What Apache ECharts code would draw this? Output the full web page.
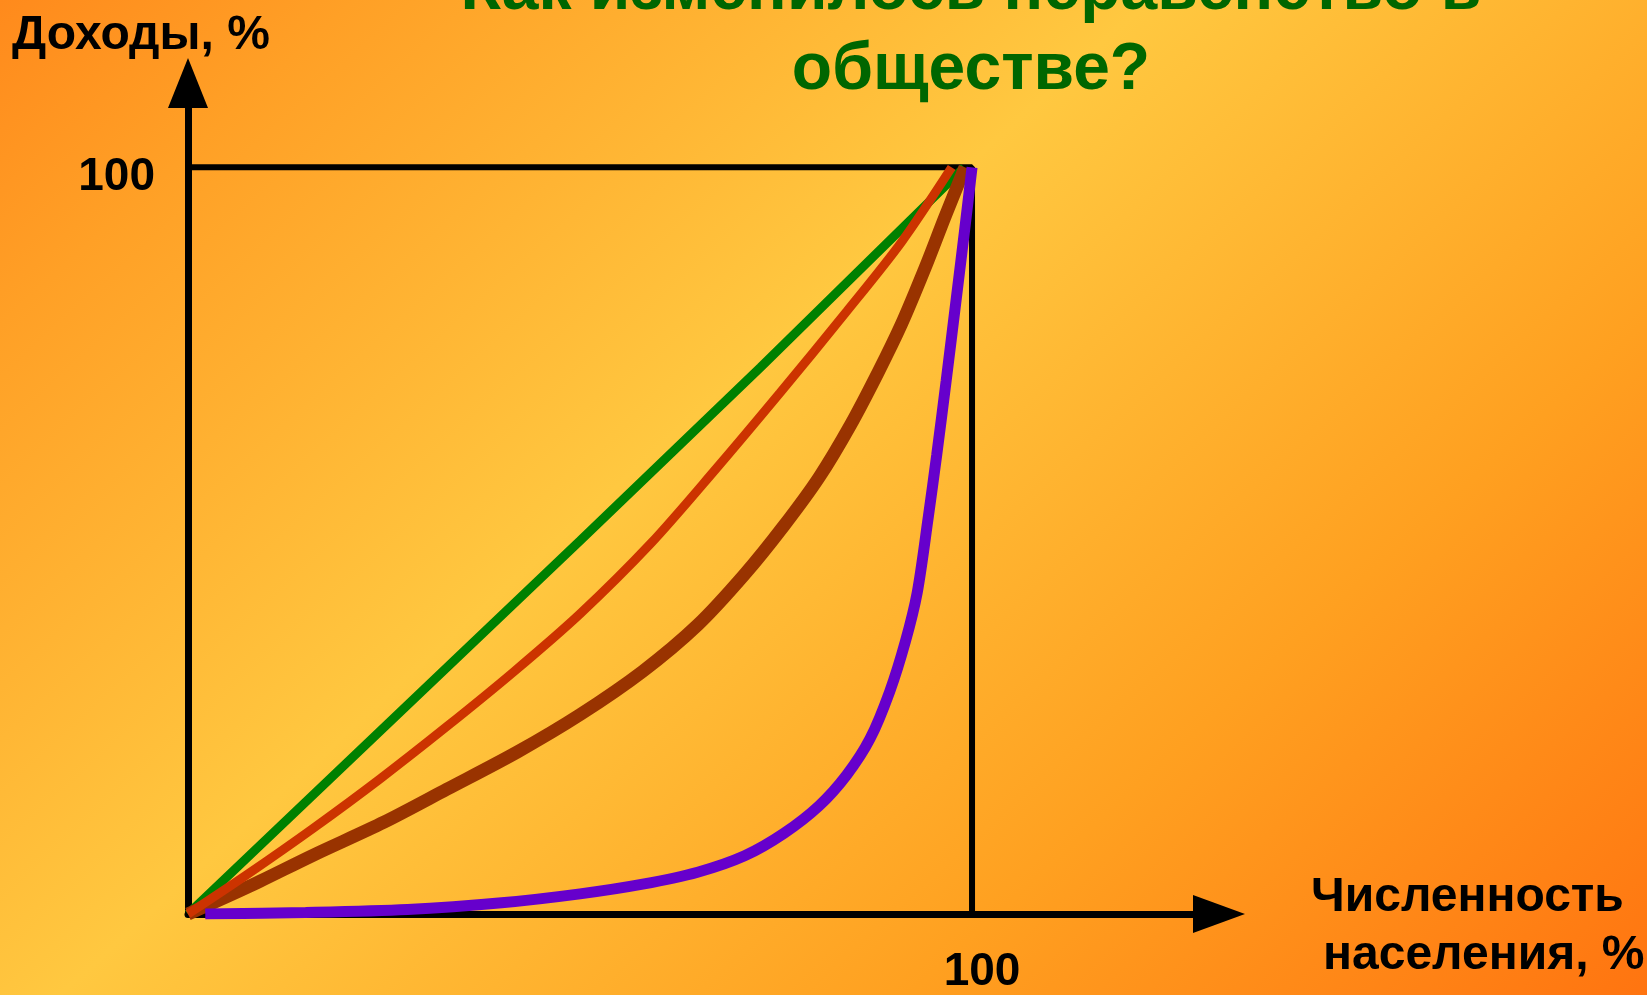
<!DOCTYPE html>
<html><head><meta charset="utf-8">
<script src="https://cdn.jsdelivr.net/npm/echarts@6/dist/echarts.min.js"></script>
<style>
html,body{margin:0;padding:0;width:1647px;height:995px;overflow:hidden;}
#c{width:1647px;height:995px;background:linear-gradient(137.6deg,#FF8A1C 0%,#FFA026 13%,#FFC840 42%,#FFA020 73%,#FF7410 100%);}
</style></head><body><div id="c"></div>
<script>
// ---- data ----
const titleLines = ['Как изменилось неравенство в', 'обществе?'];
const yAxisName = 'Доходы, %';
const xAxisNameLines = ['Численность', 'населения, %'];
const tickValue = 100;            // the only labelled tick on both axes
const frameX = [0, 100, 100];
const frameY = [100, 100, 0];

const greenX = [0, 50, 73, 99];
const greenY = [0, 50, 73.2, 100];

const redX = [0, 7.5, 16, 24.5, 33, 41.5, 50, 59, 67, 75.5, 84, 91, 97.4];
const redY = [0, 5.25, 11.5, 18.1, 25.1, 32.4, 40.2, 49.6, 59.2, 69.8, 80.7, 90, 100];

const brownX = [0, 8, 16, 25, 33, 42, 50, 58, 65, 71, 76, 80.5, 84.5, 88, 91, 94, 96.6, 99.1];
const brownY = [0, 3.8, 7.9, 12.3, 16.7, 21.7, 26.7, 32.5, 38.7, 45.5, 52, 58.5, 65.5, 72.5, 79, 86.5, 93.5, 100];

const purpleX = [2.2, 15, 28, 40, 50, 58, 65, 71, 76, 80.5, 84, 87, 89.5, 91.5, 93, 94.4, 95.5, 96.7, 98, 99.1, 100];
const purpleY = [0, 0.2, 0.6, 1.5, 2.7, 4.0, 5.6, 7.8, 10.8, 14.5, 18.6, 23.5, 29.8, 36.5, 43, 53, 61.5, 71.4, 82.5, 92, 100];

const zip = (xs, ys) => xs.map((x, i) => [x, ys[i]]);
const FONT = "'Liberation Sans', Arial, sans-serif";

const chart = echarts.init(document.getElementById('c'), null, {renderer: 'canvas'});
const option = {
  backgroundColor: 'transparent',
  animation: false,
  grid: {left: 188, top: 83, width: 1031, height: 837, containLabel: false},
  xAxis: {
    type: 'value', min: 0, max: 131.5, interval: 100,
    splitLine: {show: false},
    axisTick: {show: false},
    axisLine: {show: true, onZero: false, symbol: ['none', 'triangle'], symbolSize: [38, 52],
      lineStyle: {color: '#000', width: 7}},
    axisLabel: {
      show: true, margin: 35, padding: [0, 0, 0, 20],
      formatter: v => (v === tickValue ? String(v) : ''),
      color: '#000', fontSize: 46, fontWeight: 'bold', fontFamily: FONT
    }
  },
  yAxis: {
    type: 'value', min: 0, max: 111.3, interval: 100,
    splitLine: {show: false},
    axisTick: {show: false},
    axisLine: {show: true, onZero: false, symbol: ['none', 'triangle'], symbolSize: [40, 50],
      lineStyle: {color: '#000', width: 7}},
    axisLabel: {
      show: true, margin: 33, verticalAlign: 'top', lineHeight: 20,
      formatter: v => (v === tickValue ? String(v) : ''),
      color: '#000', fontSize: 46, fontWeight: 'bold', fontFamily: FONT
    }
  },
  series: [
    {type: 'line', name: 'frame', data: zip(frameX, frameY), symbol: 'none', z: 1,
      lineStyle: {color: '#000', width: 6}},
    {type: 'line', name: 'equal', data: zip(greenX, greenY), symbol: 'none', z: 2,
      lineStyle: {color: '#008000', width: 9}},
    {type: 'line', name: 'brown', data: zip(brownX, brownY), symbol: 'none', z: 3,
      smooth: 0.3, lineStyle: {color: '#993300', width: 13}},
    {type: 'line', name: 'red', data: zip(redX, redY), symbol: 'none', z: 4,
      smooth: 0.3, lineStyle: {color: '#CC3300', width: 9}},
    {type: 'line', name: 'purple', data: zip(purpleX, purpleY), symbol: 'none', z: 5,
      smooth: 0.3, lineStyle: {color: '#6600CC', width: 11}}
  ],
  graphic: [
    {type: 'text', x: 971, y: -9, z: 10, style: {text: titleLines[0], align: 'center', verticalAlign: 'middle',
      fontSize: 66, fontWeight: 'bold', fontFamily: FONT, fill: '#006600'}},
    {type: 'text', x: 971, y: 71, z: 10, style: {text: titleLines[1], align: 'center', verticalAlign: 'middle',
      fontSize: 66, fontWeight: 'bold', fontFamily: FONT, fill: '#006600'}},
    {type: 'text', x: 12, y: 36, z: 10, style: {text: yAxisName, align: 'left', verticalAlign: 'middle',
      fontSize: 48, fontWeight: 'bold', fontFamily: FONT, fill: '#000'}},
    {type: 'text', x: 1311, y: 898, z: 10, style: {text: xAxisNameLines[0], align: 'left', verticalAlign: 'middle',
      fontSize: 48, fontWeight: 'bold', fontFamily: FONT, fill: '#000'}},
    {type: 'text', x: 1323, y: 956, z: 10, style: {text: xAxisNameLines[1], align: 'left', verticalAlign: 'middle',
      fontSize: 48, fontWeight: 'bold', fontFamily: FONT, fill: '#000'}}
  ]
};
chart.setOption(option);
</script>
</body></html>
